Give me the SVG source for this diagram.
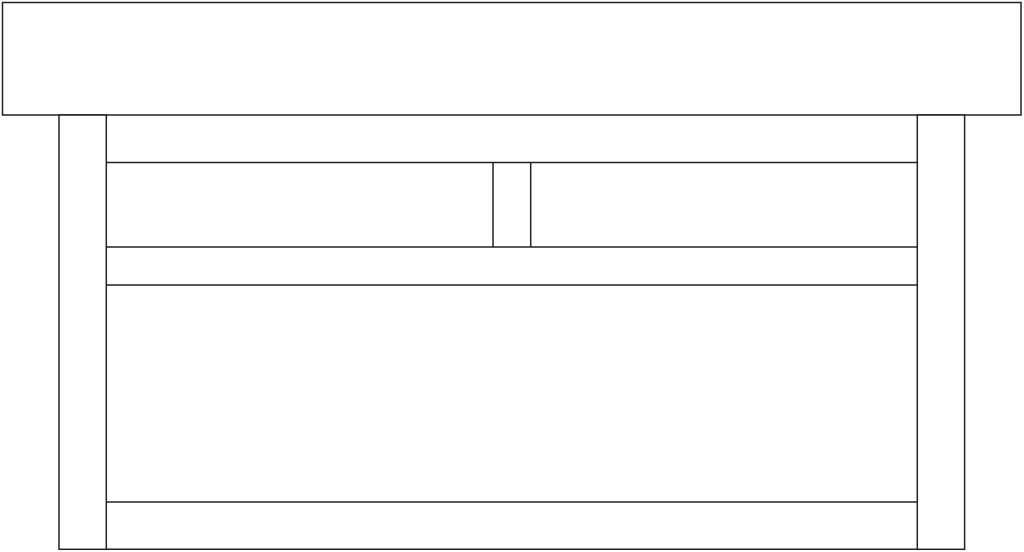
<svg xmlns="http://www.w3.org/2000/svg" width="1024" height="552" viewBox="0 0 1024 552">
<style>
.s{fill:#fff;stroke:#222;stroke-width:1.5}
.l{stroke:#222;stroke-width:1.5;fill:none}
</style>
<rect width="1024" height="552" fill="#fff"/>
<g id="top"><rect class="s" x="2.5" y="2.5" width="1018.5" height="112.5"/></g>
<g id="leftcol"><rect class="s" x="59" y="115" width="47.3" height="434.3"/></g>
<g id="rightcol"><rect class="s" x="917.3" y="115" width="47.3" height="434.3"/></g>
<g id="inner">
<line class="l" x1="106.3" y1="162.5" x2="917.3" y2="162.5"/>
<line class="l" x1="106.3" y1="247" x2="917.3" y2="247"/>
<line class="l" x1="106.3" y1="285" x2="917.3" y2="285"/>
<line class="l" x1="106.3" y1="502" x2="917.3" y2="502"/>
<line class="l" x1="106.3" y1="549.3" x2="917.3" y2="549.3"/>
<line class="l" x1="493" y1="162.5" x2="493" y2="247"/>
<line class="l" x1="530.7" y1="162.5" x2="530.7" y2="247"/>
</g>
</svg>
